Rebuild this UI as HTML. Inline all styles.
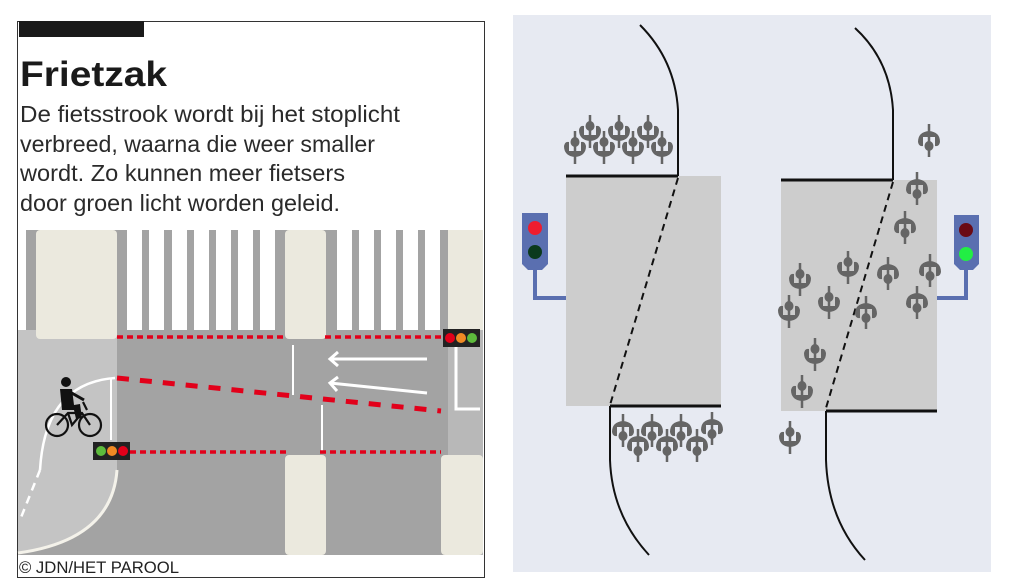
<!DOCTYPE html>
<html><head><meta charset="utf-8"><style>
html,body{margin:0;padding:0;background:#fff;width:1024px;height:585px;overflow:hidden}
svg{display:block}
</style></head><body>
<svg width="1024" height="585" viewBox="0 0 1024 585" xmlns="http://www.w3.org/2000/svg">
<defs>
<g id="bk" fill="#656565" stroke="#656565">
<line x1="0" y1="-17" x2="0" y2="16" stroke-width="2.5"/>
<path d="M-11,-2 Q-11,8 0,9 Q11,8 11,-2 Q10,-7 6,-6 L6,3 L-6,3 L-6,-6 Q-10,-7 -11,-2Z" stroke="none"/>
<ellipse cx="0" cy="-6" rx="4.5" ry="5" stroke="none"/>
</g>
<g id="bkd"><use href="#bk" transform="rotate(180)"/></g>
</defs>
<rect x="17.5" y="21.5" width="467" height="556" fill="#fff" stroke="#333" stroke-width="1"/>
<rect x="19" y="21" width="125" height="16" fill="#1a1a1a"/>
<text x="20" y="86" font-family="Liberation Sans, sans-serif" font-weight="bold" font-size="35" fill="#1a1a1a" textLength="147" lengthAdjust="spacingAndGlyphs">Frietzak</text>
<g font-family="Liberation Sans, sans-serif" font-size="23" fill="#2a2a2a" lengthAdjust="spacingAndGlyphs">
<text x="20" y="122" textLength="380" lengthAdjust="spacingAndGlyphs">De fietsstrook wordt bij het stoplicht</text>
<text x="20" y="152" textLength="355" lengthAdjust="spacingAndGlyphs">verbreed, waarna die weer smaller</text>
<text x="20" y="181" textLength="325" lengthAdjust="spacingAndGlyphs">wordt. Zo kunnen meer fietsers</text>
<text x="20" y="211" textLength="320" lengthAdjust="spacingAndGlyphs">door groen licht worden geleid.</text>
</g>
<rect x="18" y="230" width="465" height="325" fill="#a3a3a3"/>
<path d="M18,330 L117,330 L117,470 Q112,540 18,553 Z" fill="#c4c4c4"/>
<path d="M117,470 Q112,540 18,553" fill="none" stroke="#f4f2ea" stroke-width="3"/>
<rect x="18" y="230" width="8" height="100" fill="#fff"/>
<rect x="36" y="230" width="81" height="109" rx="4" fill="#ebe9de"/>
<rect x="285" y="230" width="41" height="109" rx="4" fill="#ebe9de"/>
<rect x="448" y="230" width="35" height="100" fill="#ebe9de"/>
<g fill="#fff">
<rect x="127" y="230" width="15" height="100"/><rect x="149" y="230" width="15" height="100"/><rect x="172" y="230" width="15" height="100"/><rect x="194" y="230" width="15" height="100"/><rect x="216" y="230" width="15" height="100"/><rect x="238" y="230" width="15" height="100"/><rect x="260" y="230" width="15" height="100"/>
<rect x="337" y="230" width="15" height="100"/><rect x="359" y="230" width="15" height="100"/><rect x="381" y="230" width="15" height="100"/><rect x="403" y="230" width="15" height="100"/><rect x="425" y="230" width="15" height="100"/>
</g>
<rect x="448" y="330" width="35" height="225" fill="#b8b8b8"/>
<rect x="285" y="455" width="41" height="100" rx="4" fill="#ebe9de"/>
<rect x="441" y="455" width="42" height="100" rx="4" fill="#ebe9de"/>
<path d="M456,346 L456,409 L480,409" fill="none" stroke="#fff" stroke-width="3"/>
<line x1="293" y1="345" x2="293" y2="395" stroke="#fff" stroke-width="2"/>
<line x1="322" y1="405" x2="322" y2="452" stroke="#fff" stroke-width="2"/>
<line x1="111" y1="378" x2="111" y2="440" stroke="#fff" stroke-width="2"/>
<path d="M40,470 Q45,383 115,378" fill="none" stroke="#fff" stroke-width="2.5"/>
<path d="M40,470 L20,520" fill="none" stroke="#fff" stroke-width="2.5" stroke-dasharray="8 6"/>
<g stroke="#fff" stroke-width="3" fill="none">
<line x1="427" y1="359" x2="330" y2="359"/><path d="M338,352 L330,359 L338,366"/>
<line x1="427" y1="393" x2="330" y2="383"/><path d="M338,377 L330,383 L337,391"/>
</g>
<g stroke="#e2001a" fill="none">
<line x1="117" y1="337" x2="285" y2="337" stroke-width="3.5" stroke-dasharray="6 4"/>
<line x1="325" y1="337" x2="443" y2="337" stroke-width="3.5" stroke-dasharray="6 4"/>
<line x1="130" y1="452" x2="290" y2="452" stroke-width="3.5" stroke-dasharray="6 4"/>
<line x1="320" y1="452" x2="441" y2="452" stroke-width="3.5" stroke-dasharray="6 4"/>
<line x1="117" y1="378" x2="441" y2="411" stroke-width="5" stroke-dasharray="12 11"/>
</g>
<rect x="443" y="329" width="37" height="18" fill="#222"/>
<circle cx="450" cy="338" r="5" fill="#e2001a"/><circle cx="461" cy="338" r="5" fill="#f08a24"/><circle cx="472" cy="338" r="5" fill="#5dbb3c"/>
<rect x="93" y="442" width="37" height="18" fill="#222"/>
<circle cx="101" cy="451" r="5" fill="#5dbb3c"/><circle cx="112" cy="451" r="5" fill="#f08a24"/><circle cx="123" cy="451" r="5" fill="#e2001a"/>
<g stroke="#111" fill="none" stroke-width="2.2">
<circle cx="57" cy="425" r="11"/><circle cx="90" cy="425" r="11"/>
<path d="M57,425 L68,413 L82,413 L90,425 M68,413 L72,425 L82,413 M83,402 L87,410"/>
</g>
<circle cx="66" cy="382" r="5" fill="#111"/>
<path d="M60,389 L72,389 L74,405 L80,404 L82,418 L76,419 L74,410 L62,410 Z" fill="#111"/>
<path d="M70,392 L84,400" stroke="#111" stroke-width="3"/>
<text x="19" y="573" font-family="Liberation Sans, sans-serif" font-size="17" fill="#222" textLength="160" lengthAdjust="spacingAndGlyphs">© JDN/HET PAROOL</text>

<rect x="513" y="15" width="478" height="557" fill="#e7eaf2"/>
<rect x="566" y="176" width="155" height="230" fill="#cdcdcd"/>
<rect x="781" y="180" width="156" height="231" fill="#cdcdcd"/>
<g stroke="#111" fill="none">
<line x1="566" y1="176" x2="678" y2="176" stroke-width="3"/>
<path d="M678,176 L678,110 Q675,60 640,25" stroke-width="2"/>
<line x1="610" y1="406" x2="721" y2="406" stroke-width="3"/>
<path d="M610,406 L610,460 Q612,515 649,555" stroke-width="2"/>
<line x1="678" y1="178" x2="610" y2="405" stroke-width="2" stroke-dasharray="7 5"/>
<line x1="781" y1="180" x2="893" y2="180" stroke-width="3"/>
<path d="M893,180 L893,110 Q890,60 855,28" stroke-width="2"/>
<line x1="826" y1="411" x2="937" y2="411" stroke-width="3"/>
<path d="M826,411 L826,460 Q828,520 865,560" stroke-width="2"/>
<line x1="893" y1="182" x2="826" y2="408" stroke-width="2" stroke-dasharray="7 5"/>
</g>
<path d="M522,213 L548,213 L548,264 L542,270 L528,270 L522,264 Z" fill="#5a6fb0"/>
<path d="M535,270 L535,298 L566,298" fill="none" stroke="#5a6fb0" stroke-width="4"/>
<circle cx="535" cy="228" r="7" fill="#ee1c2e"/><circle cx="535" cy="252" r="7" fill="#0b3a1d"/>
<path d="M954,215 L979,215 L979,264 L973,270 L960,270 L954,264 Z" fill="#5a6fb0"/>
<path d="M966,270 L966,298 L937,298" fill="none" stroke="#5a6fb0" stroke-width="4"/>
<circle cx="966" cy="230" r="7" fill="#6a0a14"/><circle cx="966" cy="254" r="7" fill="#22ee44"/>
<use href="#bk" x="590" y="132"/><use href="#bk" x="619" y="132"/><use href="#bk" x="648" y="132"/>
<use href="#bk" x="575" y="148"/><use href="#bk" x="604" y="148"/><use href="#bk" x="633" y="148"/><use href="#bk" x="662" y="148"/>
<use href="#bkd" x="623" y="430"/><use href="#bkd" x="652" y="430"/><use href="#bkd" x="681" y="430"/><use href="#bkd" x="712" y="428"/>
<use href="#bkd" x="638" y="445"/><use href="#bkd" x="667" y="445"/><use href="#bkd" x="697" y="445"/>
<use href="#bkd" x="929" y="140"/><use href="#bkd" x="917" y="188"/><use href="#bkd" x="905" y="227"/>
<use href="#bk" x="848" y="268"/><use href="#bkd" x="888" y="273"/><use href="#bkd" x="930" y="270"/>
<use href="#bk" x="800" y="280"/><use href="#bkd" x="917" y="302"/><use href="#bk" x="829" y="303"/>
<use href="#bk" x="789" y="312"/><use href="#bkd" x="866" y="312"/><use href="#bk" x="815" y="355"/>
<use href="#bk" x="802" y="392"/><use href="#bk" x="790" y="438"/>
</svg>
</body></html>
